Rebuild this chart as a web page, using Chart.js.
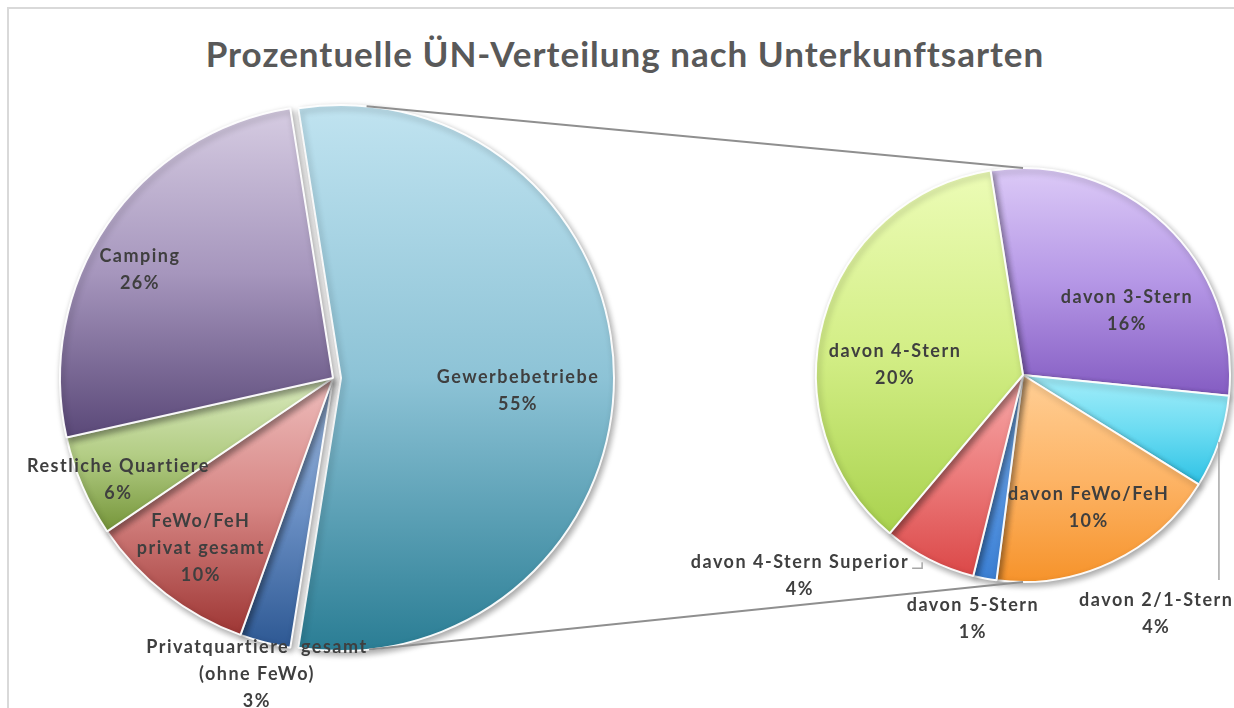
<!DOCTYPE html>
<html><head><meta charset="utf-8">
<script src="https://cdn.jsdelivr.net/npm/chart.js@4.4.1/dist/chart.umd.min.js"></script>
<style>
html,body{margin:0;padding:0;width:1234px;height:708px;overflow:hidden;background:#fff;}
#frame{position:absolute;left:7px;top:7px;width:1250px;height:740px;border:2px solid #d9d9d9;box-sizing:border-box;}
#title{position:absolute;left:8px;width:1234px;top:32px;text-align:center;font-family:Lato,"DejaVu Sans",sans-serif;font-weight:700;font-size:35px;letter-spacing:1px;color:#595959;white-space:nowrap;}
canvas{position:absolute;left:0;top:0;}
</style></head><body>
<div id="frame"></div>
<div id="title">Prozentuelle ÜN-Verteilung nach Unterkunftsarten</div>
<canvas id="c1" width="1234" height="708"></canvas>
<canvas id="c2" width="1234" height="708"></canvas>
<script>
// ---- data ----
const mainCategories = ["Gewerbebetriebe", "Privatquartiere gesamt (ohne FeWo)", "FeWo/FeH privat gesamt", "Restliche Quartiere", "Camping"];
const mainValues = [55, 3, 10, 6, 26];
const subCategories = ["davon 3-Stern", "davon 2/1-Stern", "davon FeWo/FeH", "davon 5-Stern", "davon 4-Stern Superior", "davon 4-Stern"];
const subValues = [16, 4, 10, 1, 4, 20];

// ---- label text layout (line breaks) ----
const mainLabelLines = [["Gewerbebetriebe"], ["Privatquartiere  gesamt", "(ohne FeWo)"], ["FeWo/FeH", "privat gesamt"], ["Restliche Quartiere"], ["Camping"]];
const subLabelLines = [["davon 3-Stern"], ["davon 2/1-Stern"], ["davon FeWo/FeH"], ["davon 5-Stern"], ["davon 4-Stern Superior"], ["davon 4-Stern"]];

// ---- styling ----
const mainColors = [
  ["#c0e3f0", "#8dc3d6", "#2a7d94"],
  ["#9cb7dc", "#6a8fc4", "#2d5893"],
  ["#eebdbc", "#d68583", "#9e3634"],
  ["#d9e9bd", "#b3cd85", "#759539"],
  ["#d6cce2", "#a696bd", "#5a4878"]
];
const subColors = [
  ["#dccaf7", "#b597e6", "#845cc2"],
  ["#a5eefa", "#6cdcf2", "#2ec2e5"],
  ["#ffcf96", "#fdb466", "#f6932b"],
  ["#7cb1ec", "#5b98e2", "#3b7fd3"],
  ["#f6a8a8", "#ec7b7b", "#db4848"],
  ["#ecfcb6", "#d3ee86", "#a9d24e"]
];
const mainExplode = [8, 0, 0, 0, 0];
const mainLabelShift = [4, 0, 0, -2, -5];
const mainLabelRadius = [0.65, 1.12, 0.79, 0.87, 0.81];
const subLabelShift = [15, 42, -1, 1, 21, -11];
const subLabelRadius = [0.59, 1.32, 0.715, 1.2, 1.45, 0.62];
const subLeaders = [null, 'vertical', null, null, 'hook', null];

const totalMain = mainValues.reduce((a, b) => a + b, 0);
const pct = v => Math.round(v / totalMain * 100) + "%";

function arcBounds(el) {
  const s = el.startAngle, e = el.endAngle, r = el.outerRadius;
  let ys = [el.y, el.y + Math.sin(s) * r, el.y + Math.sin(e) * r];
  for (let k = -4; k <= 8; k++) {
    const a = k * Math.PI / 2;
    if (a > s && a < e) ys.push(el.y + Math.sin(a) * r);
  }
  return {top: Math.min(...ys), bottom: Math.max(...ys)};
}

const explodePlugin = {
  id: 'explode',
  afterDatasetUpdate(chart, args, opts) {
    const arr = (opts && opts.amount) || [];
    args.meta.data.forEach((el, i) => {
      const d = arr[i] || 0;
      if (d) {
        const mid = (el.startAngle + el.endAngle) / 2;
        el.x += Math.cos(mid) * d;
        el.y += Math.sin(mid) * d;
      }
    });
  }
};

const shadePlugin = {
  id: 'shade',
  beforeDatasetsDraw(chart, args, opts) {
    const ctx = chart.ctx;
    const meta = chart.getDatasetMeta(0);
    const cols = (opts && opts.colors) || [];
    meta.data.forEach((el, i) => {
      const c = cols[i];
      if (!c) return;
      const b = arcBounds(el);
      const g = ctx.createLinearGradient(0, b.top, 0, b.bottom);
      g.addColorStop(0, c[0]); g.addColorStop(0.5, c[1]); g.addColorStop(1, c[2]);
      el.options = Object.assign({}, el.options, {backgroundColor: g});
    });
    ctx.save();
    ctx.shadowColor = 'rgba(0,0,0,0.35)';
    ctx.shadowBlur = 6;
    ctx.shadowOffsetX = 2;
    ctx.shadowOffsetY = 3;
  },
  afterDatasetsDraw(chart) {
    chart.ctx.restore();
  }
};

const labelPlugin = {
  id: 'pielabels',
  afterDatasetsDraw(chart, args, opts) {
    if (!opts || !opts.lines) return;
    const ctx = chart.ctx;
    const meta = chart.getDatasetMeta(0);
    const values = chart.data.datasets[0].data;
    ctx.save();
    ctx.font = "bold 18px Lato, 'DejaVu Sans', sans-serif";
    ctx.letterSpacing = "1.5px";
    ctx.fillStyle = "#3f3f3f";
    ctx.textAlign = "center";
    ctx.textBaseline = "middle";
    const lh = 27;
    meta.data.forEach((el, i) => {
      const mid = (el.startAngle + el.endAngle) / 2 + opts.shift[i] * Math.PI / 180;
      const r = el.outerRadius * opts.radius[i];
      const x = el.x + Math.cos(mid) * r, y = el.y + Math.sin(mid) * r;
      const lines = opts.lines[i].concat([pct(values[i])]);
      const y0 = y - (lines.length - 1) * lh / 2;
      lines.forEach((t, k) => ctx.fillText(t, x, y0 + k * lh));
      const lead = opts.leaders && opts.leaders[i];
      if (lead) {
        ctx.strokeStyle = "#a6a6a6";
        ctx.lineWidth = 1.5;
        ctx.beginPath();
        if (lead === 'vertical') {
          const am = (el.startAngle + el.endAngle) / 2;
          const ax = el.x + Math.cos(am) * el.outerRadius, ay = el.y + Math.sin(am) * el.outerRadius;
          ctx.moveTo(ax, ay); ctx.lineTo(ax, y0 - 20);
        } else if (lead === 'hook') {
          const w = ctx.measureText(lines[0]).width;
          const rx = x + w / 2 + 3;
          ctx.moveTo(rx, y0 + 6); ctx.lineTo(rx + 10, y0 + 6); ctx.lineTo(rx + 10, y0);
        }
        ctx.stroke();
      }
    });
    ctx.restore();
  }
};

let leftChart = null;

const connectorPlugin = {
  id: 'connectors',
  afterDraw(chart) {
    if (!leftChart) return;
    const ctx = chart.ctx;
    const L = leftChart.getDatasetMeta(0).data[0];
    const Rm = chart.getDatasetMeta(0).data[0];
    if (!L || !Rm) return;
    const C = {x: L.x, y: L.y}, R = L.outerRadius;
    const pts = [{x: Rm.x, y: Rm.y - Rm.outerRadius, s: -1}, {x: Rm.x, y: Rm.y + Rm.outerRadius, s: 1}];
    ctx.save();
    ctx.strokeStyle = "#8f8f8f";
    ctx.lineWidth = 2;
    pts.forEach(P => {
      const d = Math.hypot(P.x - C.x, P.y - C.y);
      const a = Math.atan2(P.y - C.y, P.x - C.x) + P.s * Math.acos(R / d);
      ctx.beginPath();
      ctx.moveTo(C.x + Math.cos(a) * R, C.y + Math.sin(a) * R);
      ctx.lineTo(P.x, P.y);
      ctx.stroke();
    });
    ctx.restore();
  }
};

function pieOptions(rotation, radius, padding, pluginOpts) {
  return {
    responsive: false,
    animation: false,
    events: [],
    rotation: rotation,
    radius: radius,
    layout: {padding: padding},
    plugins: Object.assign({legend: {display: false}, tooltip: {enabled: false}}, pluginOpts)
  };
}

leftChart = new Chart(document.getElementById('c1'), {
  type: 'pie',
  data: {
    labels: mainCategories,
    datasets: [{
      data: mainValues,
      backgroundColor: c => mainColors[c.dataIndex][1],
      borderColor: 'rgba(255,255,255,0.95)',
      borderWidth: 2,
      clip: false
    }]
  },
  options: pieOptions(-9, 273, {left: 33, right: 601, top: 78, bottom: 30}, {
    explode: {amount: mainExplode},
    shade: {colors: mainColors},
    pielabels: {lines: mainLabelLines, shift: mainLabelShift, radius: mainLabelRadius}
  }),
  plugins: [explodePlugin, shadePlugin, labelPlugin]
});

const rightChart = new Chart(document.getElementById('c2'), {
  type: 'pie',
  data: {
    labels: subCategories,
    datasets: [{
      data: subValues,
      backgroundColor: c => subColors[c.dataIndex][1],
      borderColor: 'rgba(255,255,255,0.95)',
      borderWidth: 2,
      clip: false
    }]
  },
  options: pieOptions(-9, 207, {left: 873, right: 61, top: 225, bottom: 183}, {
    shade: {colors: subColors},
    pielabels: {lines: subLabelLines, shift: subLabelShift, radius: subLabelRadius, leaders: subLeaders}
  }),
  plugins: [shadePlugin, labelPlugin, connectorPlugin]
});
</script>
</body></html>
